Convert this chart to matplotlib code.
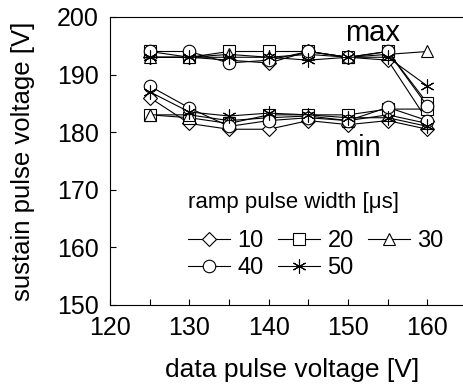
import matplotlib
matplotlib.use("Agg")
import matplotlib.pyplot as plt

plt.rcParams["font.family"] = ["Liberation Sans", "DejaVu Sans"]

# ----------------------------
# Data
# ----------------------------
data_voltage = [125, 130, 135, 140, 145, 150, 155, 160]
widths = ["10", "20", "30", "40", "50"]
markers = ["D", "s", "^", "o", (6, 2, 0)]
sizes = [7, 8, 8, 9, 10]

max_10 = [193.0, 193.0, 192.5, 192.0, 194.0, 193.0, 192.5, 182.0]
max_20 = [194.0, 193.0, 194.0, 194.0, 194.0, 193.0, 194.0, 185.0]
max_30 = [193.0, 193.0, 193.5, 193.0, 193.5, 193.0, 193.5, 194.0]
max_40 = [194.0, 194.0, 192.0, 192.5, 194.0, 193.0, 194.0, 184.5]
max_50 = [193.0, 193.0, 193.0, 193.0, 192.5, 193.0, 193.0, 188.0]

min_10 = [186.0, 181.5, 180.5, 180.5, 182.0, 181.3, 182.0, 180.5]
min_20 = [183.0, 182.5, 181.5, 183.0, 183.0, 183.0, 184.0, 184.0]
min_30 = [183.0, 183.0, 182.0, 182.5, 182.8, 182.0, 183.0, 181.5]
min_40 = [188.0, 184.2, 181.0, 182.0, 182.5, 182.0, 184.3, 182.0]
min_50 = [187.0, 183.5, 182.8, 183.3, 183.0, 182.5, 182.5, 181.0]

max_series = [max_10, max_20, max_30, max_40, max_50]
min_series = [min_10, min_20, min_30, min_40, min_50]

# ----------------------------
# Plot
# ----------------------------
fig = plt.figure(figsize=(4.64, 3.85), dpi=100)
ax = fig.add_axes([0.237, 0.208, 0.763, 0.748])

handles = []
for label, m, ms, ymax, ymin in zip(widths, markers, sizes, max_series, min_series):
    kw = dict(color="black", lw=0.8, marker=m, ms=ms, mfc="white",
              mec="black", mew=0.8)
    h, = ax.plot(data_voltage, ymax, label=label, **kw)
    ax.plot(data_voltage, ymin, **kw)
    handles.append(h)

ax.set_xlim(120, 164.6)
ax.set_ylim(150, 200)
ax.set_xticks([120, 130, 140, 150, 160])
ax.set_xticks([125, 135, 145, 155], minor=True)
ax.set_yticks([150, 160, 170, 180, 190, 200])
ax.tick_params(axis="both", which="both", direction="in", labelsize=18,
               pad=8, length=4, width=0.8)
ax.spines["right"].set_visible(False)
for s in ["left", "bottom", "top"]:
    ax.spines[s].set_linewidth(0.8)

ax.set_xlabel("data pulse voltage [V]", fontsize=19)
ax.set_ylabel("sustain pulse voltage [V]", fontsize=18.5)
ax.xaxis.set_label_coords(0.515, -0.186)
ax.yaxis.set_label_coords(-0.212, 0.5)

ax.text(153.1, 197.2, "max", fontsize=21, ha="center", va="center")
ax.text(151.2, 177.3, "min", fontsize=21, ha="center", va="center")

# legend title as plain text, legend in row order: 10 20 30 / 40 50
ax.text(129.8, 167.7, "ramp pulse width [\u03bcs]", fontsize=16,
        ha="left", va="center")
order = [0, 3, 1, 4, 2]
leg = ax.legend([handles[i] for i in order], [widths[i] for i in order],
                ncol=3, frameon=False, fontsize=17,
                loc="center left", bbox_to_anchor=(0.220, 0.175),
                handlelength=1.8, handletextpad=0.3, columnspacing=0.6,
                labelspacing=0.2, borderpad=0.0, borderaxespad=0.0)

fig.savefig("out.png", dpi=100)
plt.close(fig)
